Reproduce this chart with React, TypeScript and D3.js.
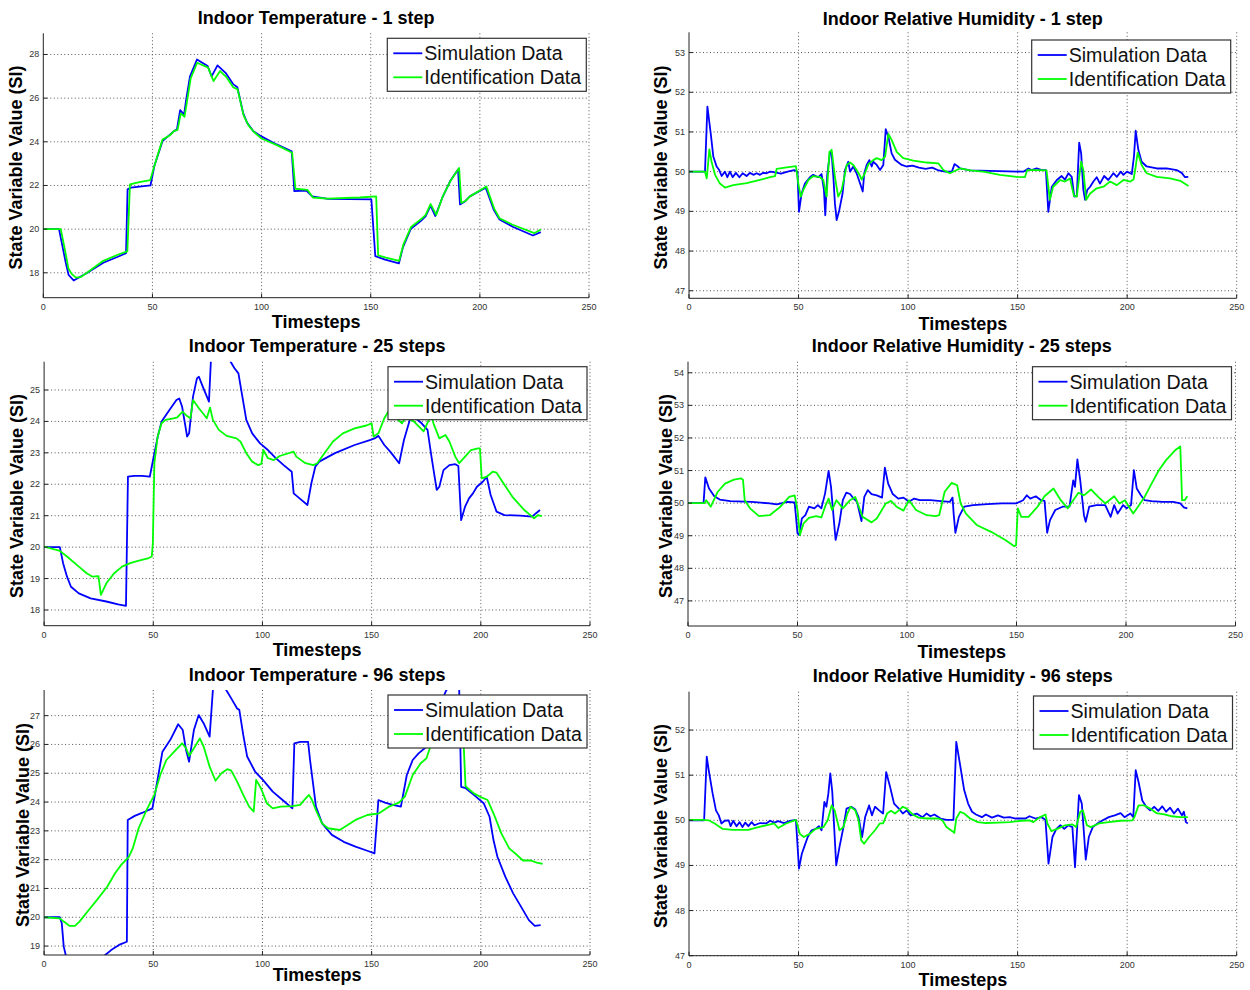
import React from 'react';
import * as d3 from 'd3';

type Pt = [number, number];

const xTicks = [0, 50, 100, 150, 200, 250];
const temp1Ticks = [18, 20, 22, 24, 26, 28];
const rh1Ticks = [47, 48, 49, 50, 51, 52, 53];
const temp25Ticks = [18, 19, 20, 21, 22, 23, 24, 25];
const rh25Ticks = [47, 48, 49, 50, 51, 52, 53, 54];
const temp96Ticks = [19, 20, 21, 22, 23, 24, 25, 26, 27];
const rh96Ticks = [47, 48, 49, 50, 51, 52];

const seriesNames = ['Simulation Data', 'Identification Data'];
const seriesColors = ['#0000ff', '#00ff00'];

// ---- Indoor Temperature - 1 step ----
const temp1Sim: Pt[] = [[0,20],[7.2,20],[10.3,18.46],[11.6,17.9],[13.9,17.65],[20.2,18.0],[27.5,18.46],[34.7,18.76],[37.9,18.9],[38.6,21.82],[40.1,21.9],[49.1,22.0],[50.9,22.9],[54.6,24.03],[60,24.5],[61.2,24.56],[62.7,25.45],[64.5,25.25],[65.4,25.9],[67.2,27.0],[70.4,27.77],[75.3,27.47],[77.1,27.0],[79.8,27.5],[83.5,27.16],[87.1,26.63],[88.9,26.5],[91.6,25.3],[93.4,24.87],[96.1,24.5],[99.7,24.26],[106.9,23.88],[113.8,23.57],[115,21.74],[120.5,21.77],[123.2,21.5],[130.4,21.39],[150.3,21.36],[152.1,18.76],[156.6,18.6],[162.9,18.43],[164.7,19.15],[168.4,20.02],[172.9,20.37],[175.2,20.6],[177.4,21.08],[179.6,20.6],[182.8,21.44],[186.4,22.2],[190,22.73],[190.9,21.13],[193.3,21.28],[195.4,21.5],[202.7,21.9],[206.3,20.9],[209,20.44],[215.3,20.1],[224.3,19.71],[227.9,19.86]];
const temp1Id: Pt[] = [[0,20],[8,20],[10,19],[11.5,18.2],[13,17.95],[15,17.78],[17,17.8],[20,18.0],[27.5,18.55],[34.7,18.85],[38.5,18.98],[39.7,22.05],[44,22.15],[49,22.25],[50.9,22.9],[54.6,24.1],[58,24.3],[60,24.5],[61.5,24.55],[63,25.3],[64.7,25.15],[65.6,25.7],[67.5,26.9],[70.5,27.62],[75.5,27.4],[78,26.78],[81,27.24],[84,26.95],[87,26.5],[89,26.4],[91.8,25.2],[94,24.75],[96.5,24.45],[100,24.15],[107,23.85],[114,23.5],[115.5,21.85],[121,21.8],[123.5,21.45],[130,21.4],[145,21.45],[152.5,21.5],[153.4,18.8],[157,18.7],[163,18.55],[165,19.3],[168.5,20.1],[173,20.45],[175.2,20.65],[177.4,21.15],[180,20.65],[183,21.5],[186.5,22.2],[190.5,22.8],[191.5,21.2],[193.5,21.3],[195.5,21.5],[203,21.95],[206.5,20.95],[209,20.5],[215,20.2],[225,19.82],[228,19.98]];

// ---- Indoor Relative Humidity - 1 step ----
const rh1Sim: Pt[] = [[0,50],[7.3,50],[8.4,51.64],[9.9,50.97],[11.1,50.38],[12.6,50.13],[13.8,50.04],[14.9,49.89],[16.4,50.0],[17.5,49.86],[18.7,50.0],[19.9,49.86],[21.4,49.97],[23,49.86],[24.5,49.96],[26.3,49.89],[27.8,49.97],[29.4,49.92],[30.9,49.96],[32.4,49.92],[33.9,49.97],[35.4,49.96],[37,50.0],[39.3,49.98],[42,49.95],[45,50.0],[48,50.04],[49.5,50.0],[50.2,48.99],[51.4,49.45],[52.9,49.7],[55.2,49.86],[56.7,49.92],[59,49.86],[60.5,49.94],[61.6,49.54],[62.2,48.9],[63.1,49.92],[64.4,50.5],[65.1,50.46],[65.9,49.87],[66.6,49.2],[67.4,48.78],[68.6,49.03],[70.1,49.45],[71.2,50.04],[72.7,50.25],[73.5,50.0],[75,50.13],[76.5,49.96],[78.1,49.7],[79.3,49.5],[80,49.96],[81.1,50.17],[82.3,50.29],[83.4,50.13],[84.1,50.25],[85.7,50.17],[87.2,50.04],[88.7,50.17],[89.8,51.07],[91,50.88],[92.5,50.46],[94,50.3],[95.6,50.23],[97.1,50.17],[99.3,50.13],[102,50.15],[105,50.1],[108,50.07],[111,50.1],[114,50.03],[117,50.0],[120,50.0],[121.2,50.19],[122.3,50.15],[123.7,50.08],[128.3,50.03],[152.6,50.0],[154.9,50.08],[156.4,50.04],[158.7,50.08],[161,50.04],[162.9,50.04],[164,48.99],[165.6,49.62],[167.9,49.79],[170.1,49.89],[171.6,49.8],[173.2,49.96],[174.7,49.87],[175.9,49.37],[177,49.39],[178.1,50.73],[179,50.46],[180,49.54],[180.8,49.29],[181.8,49.54],[183.1,49.62],[184.6,49.75],[186.1,49.86],[187.6,49.7],[189.5,49.89],[191.4,49.79],[193.7,49.96],[195.3,49.87],[197.1,50.0],[198.3,49.92],[199.9,50.0],[202.1,49.94],[203.1,50.38],[203.9,51.03],[205.1,50.55],[206.6,50.25],[208.9,50.13],[213.5,50.08],[218,50.08],[222.6,50.04],[224.9,49.97],[226.4,49.86],[227.9,49.87]];
const rh1Id: Pt[] = [[0,50],[7.3,50],[8.1,49.83],[9.3,50.56],[10.3,50.25],[11.9,49.92],[14.1,49.7],[16.4,49.6],[20.2,49.66],[26.3,49.71],[32.4,49.79],[37,49.86],[39.3,49.89],[40,50.07],[44.6,50.11],[48.8,50.14],[49.9,49.7],[51,49.37],[52.2,49.54],[54.5,49.79],[56.7,49.89],[59.8,49.86],[61.3,49.79],[62.8,49.37],[64.1,50.5],[65.1,50.55],[66.6,49.87],[68.1,49.37],[69.7,49.54],[72,50.17],[73.5,50.23],[75,50.17],[76.5,50.04],[78.1,49.89],[78.8,49.8],[80.3,49.96],[81.9,50.19],[84.1,50.29],[85.7,50.34],[87.9,50.29],[89.5,50.38],[91,50.95],[92.5,50.8],[94.8,50.5],[97.8,50.34],[102.4,50.28],[108.5,50.23],[113.8,50.21],[116.1,50.04],[117.6,50.0],[119.1,49.96],[123.7,50.08],[128.3,50.03],[134.3,50.0],[141.9,49.92],[149.6,49.87],[153.3,49.86],[154.4,50.04],[158.7,50.04],[163.2,50.03],[164.7,49.29],[166.2,49.62],[169.4,49.79],[171.6,49.75],[173.9,49.83],[175.7,49.39],[177,49.37],[179,50.25],[180,50.04],[181.3,49.29],[183.1,49.45],[186.1,49.58],[189.2,49.62],[192.2,49.75],[195.3,49.66],[198.3,49.79],[201.4,49.75],[202.9,49.8],[203.9,50.13],[204.8,50.48],[206.6,50.17],[208.9,49.96],[213.5,49.87],[219.6,49.83],[224.2,49.77],[228,49.64]];

// ---- Indoor Temperature - 25 steps ----
const temp25Sim: Pt[] = [[0,20],[7.2,20],[8.7,19.49],[10.5,19.06],[12.3,18.74],[15.9,18.53],[21.3,18.37],[28.5,18.27],[33.9,18.18],[37.5,18.13],[38.4,22.24],[41.2,22.27],[44.8,22.27],[48.4,22.24],[50.2,22.88],[52,23.5],[53.8,24.0],[57.4,24.36],[60.6,24.68],[61.9,24.73],[63.2,24.47],[65.5,23.52],[66.4,23.62],[68.2,24.79],[70,25.37],[70.9,25.42],[72.7,25.1],[75.5,24.63],[76.4,25.95],[77.5,27.5],[84.5,27.2],[85.4,25.9],[87.2,25.69],[89,25.53],[90.8,24.79],[92.6,24.05],[95.3,23.62],[98.9,23.3],[102.5,23.09],[106.1,22.83],[109.7,22.61],[113.4,22.4],[114.3,21.71],[117,21.55],[120.6,21.34],[122.4,22.03],[124.2,22.56],[126,22.72],[133.2,22.99],[142.2,23.25],[149.5,23.41],[151.3,23.46],[153.1,23.54],[155.8,23.25],[158.5,23.04],[160.3,22.88],[162.6,22.67],[164.8,23.41],[167.5,24.05],[169.3,24.15],[172.9,23.94],[175.6,23.73],[177.4,22.88],[179.8,21.82],[181,21.92],[182.9,22.45],[185.6,22.61],[188.3,22.64],[189.7,22.58],[191,20.86],[192.8,21.29],[194.6,21.55],[196.4,21.71],[198.2,21.92],[200.9,22.08],[202.7,22.24],[204.5,21.66],[207.2,21.13],[210.8,21.02],[218,21.0],[223.5,20.97],[225.3,21.08],[227.1,21.18]];
const temp25Id: Pt[] = [[0,20.02],[6.9,19.89],[10.5,19.7],[15.9,19.38],[19.5,19.17],[22.2,19.06],[24.9,19.08],[26,18.48],[28.5,18.85],[32.1,19.17],[35.7,19.38],[39.4,19.49],[43,19.56],[47.5,19.64],[49.3,19.7],[49.8,20.12],[50.5,22.67],[52,23.52],[53.8,23.94],[55.6,24.05],[59.2,24.1],[61,24.13],[63.4,24.31],[65.5,24.17],[67,24.1],[68.2,24.68],[70.9,24.42],[74.5,24.1],[76,24.44],[77.3,24.05],[80,23.73],[83.6,23.54],[88.1,23.46],[89.9,23.36],[92.6,22.99],[95.3,22.72],[98,22.61],[99.5,22.65],[100.4,23.09],[102.5,22.83],[105.2,22.77],[107.9,22.9],[114.3,23.04],[115.5,22.88],[119.7,22.67],[123.3,22.61],[125.1,22.67],[127.8,22.93],[132.3,23.36],[136.8,23.62],[142.2,23.78],[147.6,23.87],[150,23.94],[150.9,23.52],[153.1,23.62],[155.8,24.1],[157.6,24.31],[160,24.4],[162.1,24.05],[163.9,23.94],[165.7,24.13],[169.3,24.0],[173.8,23.68],[176.2,24.05],[177.4,24.17],[178.3,23.94],[181,23.46],[183.8,23.57],[185.6,23.36],[188.3,22.88],[190.1,22.67],[192.8,22.88],[195.5,23.09],[198.7,23.14],[199.6,23.14],[200.4,22.19],[202.7,22.24],[205.4,22.4],[207.2,22.37],[209.9,22.08],[214.4,21.61],[219.9,21.18],[223.5,20.97],[224.4,20.92],[226.2,21.02],[228,20.99]];

// ---- Indoor Relative Humidity - 25 steps ----
const rh25Sim: Pt[] = [[0,50],[7.1,50],[7.9,50.79],[9.6,50.45],[12,50.21],[14.5,50.11],[19.3,50.06],[29.1,50.04],[37.3,49.99],[40.5,49.96],[45.4,50.04],[48.7,50.02],[50,49.07],[50.8,49.02],[52,49.53],[53.6,49.63],[55.2,49.89],[57.7,49.84],[59.3,49.94],[60.9,49.84],[62.6,50.3],[64.2,50.99],[65.3,50.5],[66.6,49.48],[67.4,48.87],[69.1,49.38],[70.7,50.09],[72.3,50.32],[74,50.28],[75.6,50.14],[77.2,50.04],[79.2,49.45],[80.5,50.19],[82.1,50.4],[83.8,50.28],[86.2,50.24],[88.6,50.17],[89.9,51.09],[91.4,50.6],[93.5,50.28],[96,50.14],[98.4,50.17],[100.9,50.04],[103.3,50.14],[105.8,50.09],[110.7,50.09],[115.5,50.06],[119.6,50.04],[120.8,50.17],[121.3,49.68],[122.1,49.09],[123.7,49.58],[126.1,49.89],[130.2,49.94],[136.7,49.97],[143.3,49.99],[149.8,49.99],[153,50.09],[154.7,50.24],[156.3,50.14],[158.8,50.21],[161.2,50.09],[162.8,50.07],[164,49.09],[165.3,49.48],[167.7,49.79],[171,49.89],[174.2,49.89],[175.9,50.7],[176.7,50.5],[177.8,51.34],[179.1,50.7],[180.8,49.63],[181.6,49.43],[183.2,49.89],[186.5,49.94],[190.5,49.94],[193,49.58],[194.6,49.94],[196.2,49.68],[198.7,49.94],[200.3,49.84],[202.3,49.94],[203.6,51.01],[204.9,50.45],[206.8,50.24],[208.5,50.09],[211.7,50.06],[216.6,50.04],[221.5,50.04],[224.8,49.99],[226.4,49.87],[228,49.84]];
const rh25Id: Pt[] = [[0,50],[7.6,50],[8.3,50.09],[10.4,49.89],[13.6,50.35],[16.9,50.6],[21,50.72],[24.2,50.76],[25.1,50.72],[25.9,50.09],[28.3,49.84],[32.4,49.6],[37.3,49.63],[42.2,49.89],[46.2,50.19],[48.7,50.24],[50,49.79],[51.1,49.02],[52.8,49.38],[55.2,49.55],[58.5,49.6],[60.9,49.56],[62.6,49.89],[64.2,50.14],[65.8,49.79],[67.8,50.09],[70.7,49.84],[74,50.09],[76.4,50.19],[79.7,49.58],[83.8,49.41],[86.2,49.53],[90.3,49.99],[92.7,50.07],[95.2,49.89],[98.4,49.77],[100.9,50.09],[104.1,49.79],[109,49.63],[113.1,49.6],[114.7,49.63],[117.2,50.35],[120.4,50.62],[122.9,50.55],[124.5,49.99],[126.9,49.68],[131.8,49.33],[138.4,49.12],[144.9,48.87],[149,48.68],[149.8,48.71],[150.6,49.84],[152.2,49.58],[155.5,49.58],[159.6,49.89],[162.8,50.21],[166.9,50.45],[170.2,50.09],[173.4,49.84],[175.9,50.09],[178.3,50.32],[180.8,50.24],[184,50.42],[187.3,50.19],[190.5,49.99],[194.6,50.21],[197,49.99],[199.5,50.09],[203.3,49.68],[206,49.94],[208.5,50.19],[211.7,50.6],[215,51.01],[218.3,51.32],[222.4,51.62],[224.8,51.74],[225.6,50.09],[226.8,50.09],[228,50.21]];

// ---- Indoor Temperature - 96 steps ----
const temp96Sim: Pt[] = [[0,20],[7.2,20],[8.1,19.79],[9,18.98],[9.9,18.69],[11,18.1],[14,17.85],[20,18.2],[28,18.69],[30.7,18.86],[34.3,19.04],[37.9,19.15],[38.3,23.38],[41.5,23.52],[45.1,23.63],[49.6,23.78],[51.4,24.53],[54.2,25.75],[57.8,26.16],[61.4,26.7],[63.5,26.5],[65,25.81],[66.4,25.4],[68.6,26.5],[70.8,27.02],[73.1,26.73],[75.8,26.27],[77.3,27.89],[78.5,28.6],[82,28.5],[83.4,27.89],[85.7,27.6],[88.4,27.25],[89.4,27.2],[91.2,26.33],[93,25.58],[96.6,25.06],[100.2,24.77],[104.7,24.36],[109.2,24.07],[113.7,23.78],[114.6,26.04],[117.3,26.09],[120.9,26.09],[121.8,25.46],[124.5,23.84],[127.3,23.26],[131.8,22.86],[137.2,22.62],[142.6,22.45],[148,22.31],[151.3,22.22],[153.1,24.07],[156.1,23.98],[159.7,23.9],[163.4,23.84],[166.1,24.94],[168.8,25.46],[171.5,25.69],[175.1,25.92],[178,26.6],[182,27.5],[184,27.85],[186,28.1],[189,28.1],[190.1,27.9],[191,24.53],[193.1,24.48],[196.8,24.25],[201.3,23.96],[204,23.49],[205.8,22.68],[207.6,22.1],[211.2,21.41],[214.8,20.83],[218.4,20.37],[222,19.9],[224.7,19.7],[227.4,19.73]];
const temp96Id: Pt[] = [[0,20],[7.2,19.96],[9,19.85],[11.7,19.7],[14.1,19.7],[16.2,19.85],[19.9,20.2],[24.4,20.62],[28.9,21.06],[32.5,21.53],[35.2,21.81],[38.8,22.1],[40.6,22.39],[43.3,23.09],[46.9,23.72],[50.5,24.25],[53.2,24.94],[56,25.46],[59.6,25.75],[63.2,26.04],[65,25.87],[66.4,25.6],[68.6,25.87],[71.3,26.21],[73.1,25.92],[75.8,25.23],[78.5,24.74],[81.2,25.0],[83.9,25.14],[85.7,25.09],[88.4,24.71],[91.2,24.25],[93.9,23.84],[96,23.67],[97.1,24.77],[99.3,24.48],[102,23.96],[104.7,23.78],[108.3,23.84],[113.7,23.86],[117.3,23.9],[119.1,24.07],[121.3,24.25],[122.7,24.07],[124.5,23.72],[127.3,23.26],[130,23.09],[135.4,23.03],[139,23.2],[142.6,23.38],[148,23.55],[153.4,23.61],[157.9,23.84],[162.5,23.98],[165.2,24.19],[168.8,24.94],[172.4,25.34],[175.1,25.52],[176.9,25.92],[180,26.3],[186,26.8],[191,26.6],[192.2,25.9],[193,24.55],[194,24.48],[196.8,24.3],[199.5,24.19],[203.1,24.07],[205.8,23.61],[209.4,22.91],[213,22.39],[216.6,22.16],[219.3,21.97],[222.9,21.97],[225.6,21.9],[228.3,21.85]];

// ---- Indoor Relative Humidity - 96 steps ----
const rh96Sim: Pt[] = [[0,50],[6.9,50],[8.1,51.41],[9,51.11],[10.8,50.59],[12.3,50.22],[13.6,50.11],[14.8,49.93],[16.3,49.99],[18.1,50.0],[19,49.87],[20.2,49.99],[21.7,49.87],[23.1,49.96],[24.4,49.85],[25.7,49.95],[27.1,49.87],[28.6,49.96],[29.8,49.89],[32.5,49.94],[35.2,49.93],[37,49.99],[38.9,49.95],[40.7,49.98],[43.4,49.94],[46.1,49.99],[48.8,50.01],[50.2,48.93],[51.5,49.26],[52.8,49.44],[54.2,49.63],[56,49.78],[57.8,49.81],[59.3,49.87],[60.5,49.78],[61.8,50.41],[62.7,50.3],[63.6,50.59],[64.5,51.04],[65.4,50.63],[66.5,49.63],[67.2,49.0],[68.7,49.41],[70.5,49.85],[71.9,50.26],[74.1,50.3],[75.9,50.24],[77.4,50.07],[79,49.63],[80.4,50.07],[82.2,50.33],[83.5,50.11],[84.9,50.3],[86.8,50.22],[88.6,50.15],[90,51.07],[91.8,50.74],[93.6,50.37],[95.8,50.26],[97.6,50.15],[99.4,50.22],[101.2,50.11],[103.9,50.15],[106.6,50.07],[108.4,50.15],[110.2,50.09],[112,50.13],[114.8,50.04],[117.5,50.01],[120.7,50.01],[122,51.74],[123.4,51.33],[125.6,50.67],[127.4,50.37],[129.2,50.19],[131,50.13],[133.7,50.07],[135.5,50.13],[138.3,50.06],[141,50.11],[143.7,50.06],[146.4,50.07],[149.1,50.04],[153.6,50.04],[155.4,50.09],[158.1,50.04],[160.9,50.07],[162.7,50.01],[164.1,49.04],[165.9,49.63],[167.7,49.81],[169.5,49.89],[171.3,49.81],[173.1,49.89],[175,49.85],[176.2,48.96],[178,50.56],[179.3,50.37],[180.4,49.63],[181.1,49.13],[182.5,49.63],[184.3,49.85],[187.1,49.95],[188.9,50.0],[191.6,50.07],[194.3,50.11],[197,50.16],[198.8,50.07],[201.5,50.15],[202.8,50.07],[203.9,51.11],[205.2,50.85],[206.9,50.44],[208.7,50.3],[210.5,50.22],[212.4,50.3],[214.2,50.21],[216,50.31],[217.8,50.19],[219.6,50.28],[221.4,50.15],[223.2,50.26],[225,50.11],[225.9,50.19],[226.8,49.96],[227.7,49.93]];
const rh96Id: Pt[] = [[0,50.01],[6.3,50.01],[9,50.0],[11.7,49.93],[15.4,49.81],[19.9,49.79],[27.1,49.79],[30.7,49.84],[35.2,49.89],[38.9,49.93],[40.7,49.83],[44.3,49.93],[48.8,50.01],[50.6,49.7],[52.4,49.63],[55.1,49.7],[57.8,49.81],[61.4,49.85],[63.3,50.0],[65.1,50.33],[66.5,50.22],[68.7,49.78],[70.5,49.85],[72.3,50.15],[73.7,50.3],[75.9,50.22],[77.4,50.0],[78.6,49.56],[79.9,49.48],[82.2,49.63],[84.9,49.78],[87.1,49.93],[88.6,49.93],[90.4,50.15],[92.2,50.21],[94,50.15],[95.8,50.22],[97.6,50.3],[99.4,50.26],[102.1,50.13],[104.8,50.06],[108.4,50.04],[113.9,50.04],[115.7,50.0],[117.5,49.85],[120.2,49.76],[121.1,49.72],[122,50.04],[123.8,50.19],[125.6,50.15],[128.3,50.04],[131.9,49.96],[135.5,49.94],[141,49.95],[146.4,49.96],[151.8,49.99],[155.4,50.0],[157.2,49.96],[159.9,50.06],[162.7,50.13],[163.6,49.93],[165.4,49.76],[168.1,49.81],[171.7,49.89],[175,49.91],[176.7,49.85],[178.6,50.19],[179.8,50.22],[181.6,49.89],[183.4,49.85],[187.1,49.93],[191.6,49.96],[197,49.99],[202.4,50.0],[203.3,50.07],[205.2,50.33],[207.8,50.33],[210.5,50.26],[213.3,50.16],[216.9,50.13],[220.5,50.09],[224.1,50.07],[227.7,50.07]];

interface PanelCfg {
  title: string;
  sim: Pt[];
  id: Pt[];
  yDomain: [number, number];
  yTicks: number[];
  x0: number; x1: number; top: number; bottom: number;
  titleY: number; xlabY: number; ylabX: number; ylabY: number;
  legX: number; legY: number;
}

const panels: PanelCfg[] = [
  { title: 'Indoor Temperature - 1 step', sim: temp1Sim, id: temp1Id, yDomain: [16.86, 28.97], yTicks: temp1Ticks,
    x0: 43.3, x1: 589, top: 33.3, bottom: 297.7, titleY: 24, xlabY: 328, ylabX: 21.6, ylabY: 167.5, legX: 387.3, legY: 38.3 },
  { title: 'Indoor Relative Humidity - 1 step', sim: rh1Sim, id: rh1Id, yDomain: [46.81, 53.51], yTicks: rh1Ticks,
    x0: 689, x1: 1236.7, top: 32.3, bottom: 298.3, titleY: 24.7, xlabY: 330, ylabX: 667, ylabY: 167.5, legX: 1031.7, legY: 40 },
  { title: 'Indoor Temperature - 25 steps', sim: temp25Sim, id: temp25Id, yDomain: [17.5, 25.9], yTicks: temp25Ticks,
    x0: 44.1, x1: 590, top: 361.7, bottom: 625.7, titleY: 352.3, xlabY: 656, ylabX: 22.5, ylabY: 496, legX: 388, legY: 366.7 },
  { title: 'Indoor Relative Humidity - 25 steps', sim: rh25Sim, id: rh25Id, yDomain: [46.23, 54.34], yTicks: rh25Ticks,
    x0: 688, x1: 1235.5, top: 361.7, bottom: 626, titleY: 352.3, xlabY: 658, ylabX: 672, ylabY: 496, legX: 1032.5, legY: 366.7 },
  { title: 'Indoor Temperature - 96 steps', sim: temp96Sim, id: temp96Id, yDomain: [18.69, 27.89], yTicks: temp96Ticks,
    x0: 44.1, x1: 590, top: 690, bottom: 955, titleY: 681.3, xlabY: 981, ylabX: 28.8, ylabY: 825, legX: 388, legY: 695 },
  { title: 'Indoor Relative Humidity - 96 steps', sim: rh96Sim, id: rh96Id, yDomain: [47, 52.85], yTicks: rh96Ticks,
    x0: 689, x1: 1236.7, top: 691.7, bottom: 955.7, titleY: 682.3, xlabY: 986, ylabX: 667, ylabY: 826, legX: 1033.5, legY: 696 },
];

const FONT = '"Liberation Sans", Arial, Helvetica, sans-serif';

function Panel({ p, idx }: { p: PanelCfg; idx: number }) {
  const x = d3.scaleLinear().domain([0, 250]).range([p.x0, p.x1]);
  const y = d3.scaleLinear().domain(p.yDomain).range([p.bottom, p.top]);
  const line = d3.line<Pt>().x(d => x(d[0])).y(d => y(d[1]));
  const clipId = `clip-${idx}`;
  const cx = (p.x0 + p.x1) / 2;
  const legW = 199, legH = 53;
  return (
    <g>
      <defs>
        <clipPath id={clipId}>
          <rect x={p.x0} y={p.top} width={p.x1 - p.x0} height={p.bottom - p.top} />
        </clipPath>
      </defs>
      {/* grid */}
      {xTicks.filter(t => t > 0).map(t => (
        <line key={'gx' + t} x1={x(t)} x2={x(t)} y1={p.top} y2={p.bottom} stroke="#555" strokeWidth={1} strokeDasharray="1,2.5" />
      ))}
      {p.yTicks.map(t => (
        <line key={'gy' + t} x1={p.x0} x2={p.x1} y1={y(t)} y2={y(t)} stroke="#555" strokeWidth={1} strokeDasharray="1,2.5" />
      ))}
      {/* series */}
      <g clipPath={`url(#${clipId})`}>
        <path d={line(p.sim) || ''} fill="none" stroke={seriesColors[0]} strokeWidth={1.8} strokeLinejoin="round" />
        <path d={line(p.id) || ''} fill="none" stroke={seriesColors[1]} strokeWidth={1.8} strokeLinejoin="round" />
      </g>
      {/* axes */}
      <line x1={p.x0} x2={p.x0} y1={p.top} y2={p.bottom} stroke="#222" strokeWidth={1} />
      <line x1={p.x0} x2={p.x1} y1={p.bottom} y2={p.bottom} stroke="#222" strokeWidth={1} />
      {xTicks.map(t => (
        <g key={'tx' + t}>
          <line x1={x(t)} x2={x(t)} y1={p.bottom} y2={p.bottom - 4} stroke="#222" />
          <text x={x(t)} y={p.bottom + 12} fontSize={9} fill="#333" textAnchor="middle" fontFamily={FONT}>{t}</text>
        </g>
      ))}
      {p.yTicks.map(t => (
        <g key={'ty' + t}>
          <line x1={p.x0} x2={p.x0 + 4} y1={y(t)} y2={y(t)} stroke="#222" />
          <text x={p.x0 - 4} y={y(t) + 3} fontSize={9} fill="#333" textAnchor="end" fontFamily={FONT}>{t}</text>
        </g>
      ))}
      {/* labels */}
      <text x={cx} y={p.titleY} fontSize={18} fontWeight="bold" textAnchor="middle" fontFamily={FONT}>{p.title}</text>
      <text x={cx} y={p.xlabY} fontSize={18} fontWeight="bold" textAnchor="middle" fontFamily={FONT}>Timesteps</text>
      <text transform={`translate(${p.ylabX},${p.ylabY}) rotate(-90)`} fontSize={18} fontWeight="bold" textAnchor="middle" fontFamily={FONT}>State Variable Value (SI)</text>
      {/* legend */}
      <rect x={p.legX} y={p.legY} width={legW} height={legH} fill="#fff" stroke="#333" strokeWidth={1.2} />
      {seriesNames.map((n, i) => (
        <g key={n}>
          <line x1={p.legX + 6} x2={p.legX + 35} y1={p.legY + 15 + i * 24} y2={p.legY + 15 + i * 24} stroke={seriesColors[i]} strokeWidth={1.8} />
          <text x={p.legX + 37} y={p.legY + 15 + i * 24 + 7} fontSize={19.6} fontFamily={FONT} fill="#111">{n}</text>
        </g>
      ))}
    </g>
  );
}

export default function App() {
  return (
    <svg width={1250} height={990} style={{ position: 'absolute', left: 0, top: 0, background: '#fff' }}>
      <rect x={0} y={0} width={1250} height={990} fill="#fff" />
      {panels.map((p, i) => <Panel key={i} p={p} idx={i} />)}
    </svg>
  );
}
